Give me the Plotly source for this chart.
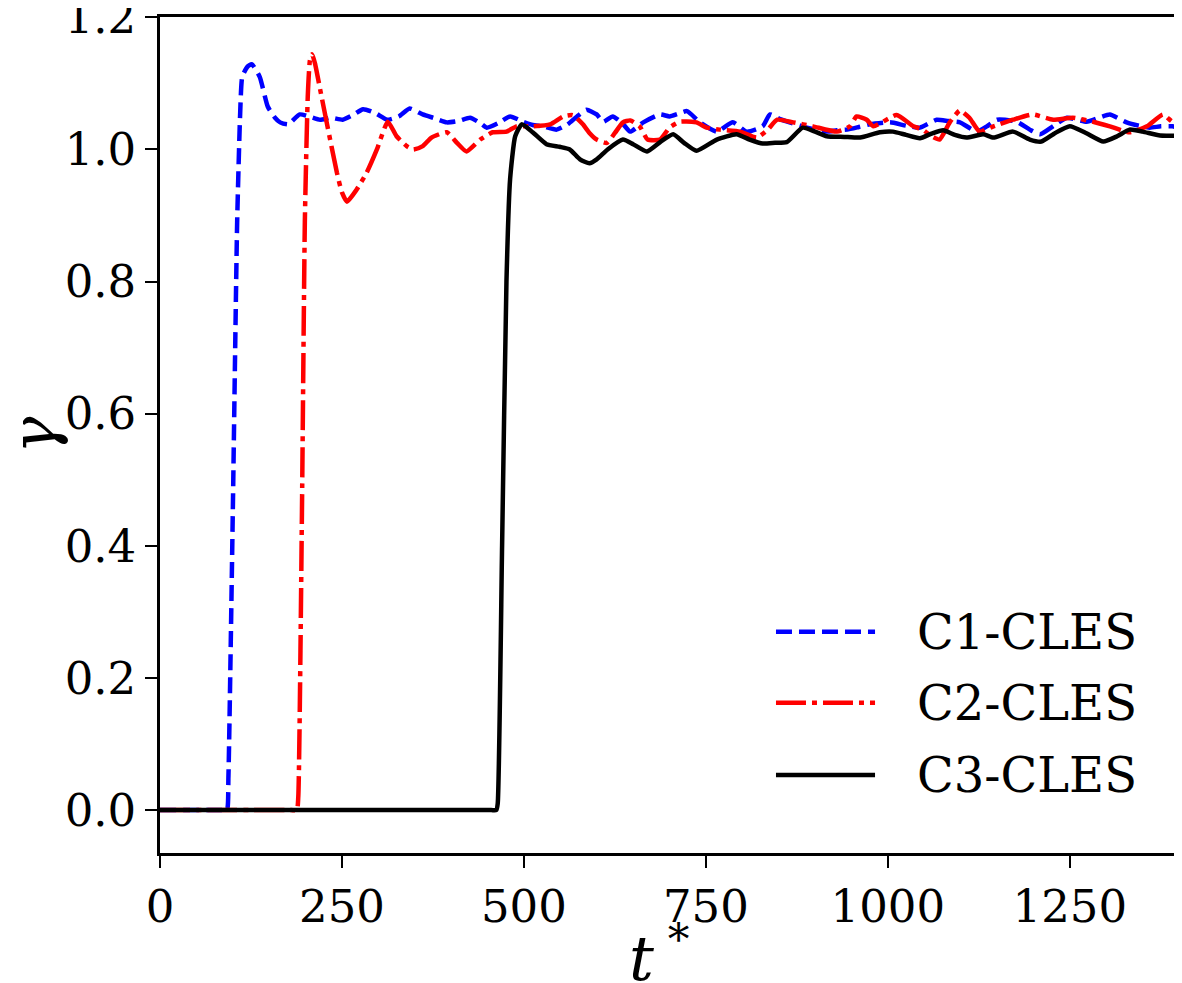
import plotly.graph_objects as go

# C1-CLES (blue, dashed)
t_c1 = [0, 85, 92, 94, 100, 106, 110, 113, 120, 126, 137, 148, 158, 165, 176, 192, 205, 220, 235,
        251, 265, 279, 296, 312, 328, 343, 361, 378, 394, 410, 426, 440, 449, 465, 481, 499,
        512, 526, 545, 560, 573, 586, 600, 609, 622, 635, 646, 664, 687, 700, 712, 724, 742,
        765, 787, 806, 828, 838, 852, 865, 883, 900, 916, 930, 944, 960, 975, 1003, 1025,
        1044, 1067, 1083, 1099, 1122, 1136, 1150, 1177, 1195, 1209, 1228, 1246, 1273, 1290,
        1305, 1328, 1345, 1360, 1375, 1391, 1400]
g_c1 = [0, 0, 0, 0.05, 0.45, 0.89, 1.05, 1.11, 1.125, 1.129, 1.11, 1.065, 1.048, 1.041, 1.038,
        1.053, 1.05, 1.045, 1.048, 1.045, 1.052, 1.061, 1.055, 1.045, 1.05, 1.062, 1.053,
        1.047, 1.041, 1.043, 1.048, 1.04, 1.033, 1.04, 1.05, 1.042, 1.037, 1.035, 1.03, 1.038,
        1.05, 1.06, 1.053, 1.042, 1.05, 1.04, 1.027, 1.041, 1.053, 1.05, 1.054, 1.058, 1.041,
        1.027, 1.041, 1.027, 1.035, 1.053, 1.046, 1.041, 1.035, 1.03, 1.027, 1.029, 1.03,
        1.034, 1.038, 1.041, 1.036, 1.033, 1.045, 1.043, 1.041, 1.027, 1.035, 1.045, 1.042,
        1.03, 1.023, 1.036, 1.048, 1.042, 1.048, 1.053, 1.041, 1.036, 1.033, 1.035, 1.035,
        1.033]

# C2-CLES (red, dash-dot)
t_c2 = [0, 180, 188, 190, 195, 199, 203, 206, 209, 213, 220, 229, 243, 250, 257, 270, 284, 298,
        313, 325, 339, 348, 361, 373, 394, 408, 421, 440, 457, 476, 490, 512, 536, 554, 567,
        581, 590, 600, 614, 625, 636, 646, 659, 670, 687, 700, 714, 737, 751, 769, 797, 820,
        835, 848, 870, 897, 930, 948, 957, 971, 980, 1012, 1035, 1048, 1060, 1071, 1085,
        1099, 1112, 1126, 1145, 1172, 1199, 1227, 1254, 1282, 1305, 1332, 1356, 1378, 1391,
        1400]
g_c2 = [0, 0, 0, 0.02, 0.45, 0.89, 1.08, 1.135, 1.144, 1.13, 1.091, 1.041, 0.965, 0.935, 0.921,
        0.939, 0.965, 1.0, 1.042, 1.02, 1.005, 1.0, 1.005, 1.018, 1.026, 1.01, 0.997, 1.015,
        1.026, 1.027, 1.035, 1.035, 1.038, 1.05, 1.052, 1.038, 1.025, 1.015, 1.01, 1.025,
        1.041, 1.044, 1.035, 1.015, 1.015, 1.033, 1.042, 1.041, 1.033, 1.03, 1.027, 1.018,
        1.03, 1.045, 1.041, 1.035, 1.027, 1.035, 1.05, 1.045, 1.035, 1.052, 1.035, 1.03,
        1.02, 1.015, 1.041, 1.059, 1.048, 1.027, 1.035, 1.045, 1.053, 1.045, 1.048, 1.042,
        1.035, 1.026, 1.035, 1.053, 1.042, 1.045]

# C3-CLES (black, solid)
t_c3 = [0, 455, 462, 464, 470, 476, 481, 488, 497, 512, 531, 549, 563, 577, 590, 600, 615, 636,
        650, 669, 688, 705, 720, 737, 765, 792, 810, 828, 845, 861, 883, 900, 916, 940, 962,
        989, 1007, 1025, 1044, 1060, 1076, 1092, 1108, 1131, 1145, 1172, 1195, 1211, 1230,
        1250, 1272, 1296, 1315, 1332, 1350, 1374, 1400]
g_c3 = [0, 0, 0, 0.01, 0.4, 0.8, 0.955, 1.02, 1.038, 1.026, 1.008, 1.004, 1.0, 0.985, 0.979,
        0.985, 1.0, 1.015, 1.008, 0.997, 1.012, 1.023, 1.01, 0.998, 1.015, 1.023, 1.015,
        1.009, 1.01, 1.011, 1.033, 1.027, 1.02, 1.019, 1.018, 1.026, 1.027, 1.022, 1.017,
        1.024, 1.029, 1.022, 1.018, 1.023, 1.018, 1.027, 1.015, 1.012, 1.025, 1.035, 1.025,
        1.012, 1.02, 1.03, 1.027, 1.021, 1.021]

x_ticks = [0, 250, 500, 750, 1000, 1250]
y_ticks = [0.0, 0.2, 0.4, 0.6, 0.8, 1.0, 1.2]

FONT = "DejaVu Serif"

series = [
    ("C1-CLES", t_c1, g_c1, "#0000ff", "16px,7px"),
    ("C2-CLES", t_c2, g_c2, "#ff0000", "30px,6px,5px,6px"),
    ("C3-CLES", t_c3, g_c3, "#000000", "solid"),
]

fig = go.Figure()
for name, t, g, color, dash in series:
    fig.add_trace(go.Scatter(
        x=t, y=g, name=name, mode="lines",
        line=dict(color=color, width=4.5, dash=dash, shape="spline", smoothing=0.5),
        showlegend=False,
    ))

# legend drawn by hand so the line samples are as long as in the reference
leg_rows = [0.2647, 0.1796, 0.0934]
for (name, _, _, color, dash), ly in zip(series, leg_rows):
    fig.add_shape(type="line", xref="paper", yref="paper",
                  x0=0.6045, x1=0.7017, y0=ly, y1=ly,
                  line=dict(color=color, width=4.5, dash=dash))
    fig.add_annotation(xref="paper", yref="paper", x=0.741, y=ly,
                       text=name, showarrow=False, xanchor="left", yanchor="middle",
                       font=dict(family=FONT, size=48, color="black"))

# axis titles as annotations for exact placement
fig.add_annotation(xref="paper", yref="paper", x=0.49, y=-0.122,
                   text="<i>t</i><sup> *</sup>", showarrow=False,
                   xanchor="center", yanchor="middle",
                   font=dict(family=FONT, size=62, color="black"))
fig.add_annotation(xref="paper", yref="paper", x=-0.125, y=0.5,
                   text="<i>γ</i>", showarrow=False, textangle=-90,
                   xanchor="center", yanchor="middle",
                   font=dict(family=FONT, size=62, color="black"))

axis_common = dict(
    showline=True, linecolor="black", linewidth=2.5, mirror=True,
    ticks="outside", ticklen=12, tickwidth=2, tickcolor="black",
    showgrid=False, zeroline=False, automargin=False,
    ticklabeloverflow="allow",
    tickfont=dict(family=FONT, size=45, color="black"),
)

# the page body adds an 8px margin, so the figure is a bit smaller than the window
fig.update_layout(
    width=1174, height=975,
    margin=dict(l=152, r=3, t=9, b=130),
    plot_bgcolor="white", paper_bgcolor="white",
    xaxis=dict(range=[0, 1400], tickvals=x_ticks, ticktext=[str(v) for v in x_ticks],
               **axis_common),
    yaxis=dict(range=[-0.065, 1.2005], tickvals=y_ticks,
               ticktext=[f"{v:.1f}" for v in y_ticks],
               **axis_common),
)

fig.write_html("out.html")
